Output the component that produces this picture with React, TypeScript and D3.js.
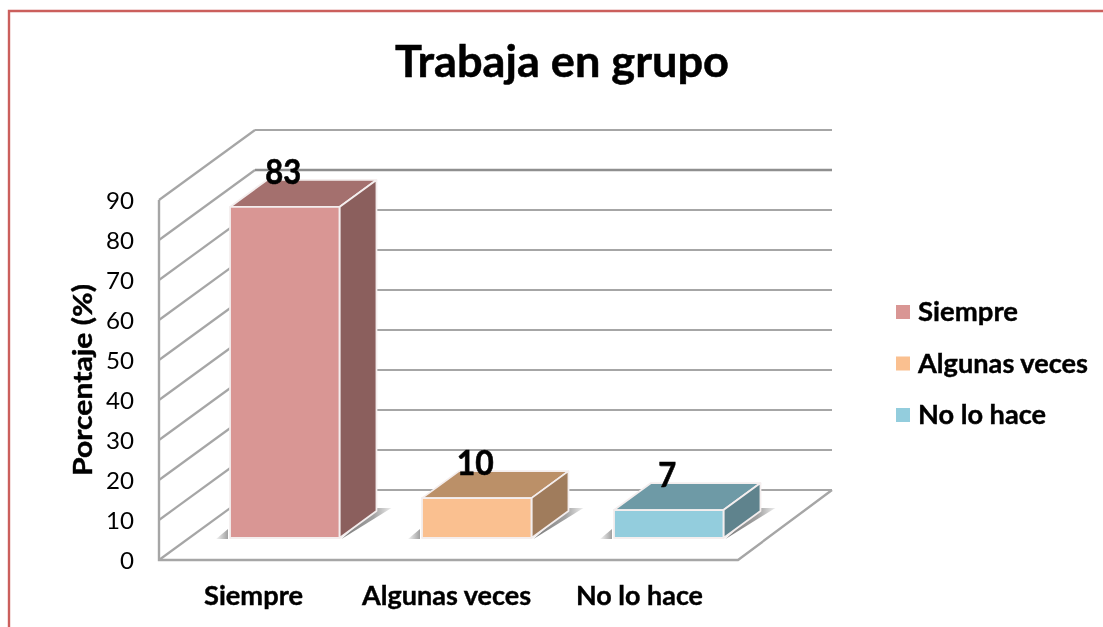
import React from "react";
import * as d3 from "d3";

const categories = ["Siempre", "Algunas veces", "No lo hace"];
const values = [83, 10, 7];
const ticks = [0, 10, 20, 30, 40, 50, 60, 70, 80, 90];
const frontColors = ["#d99694", "#fac090", "#93cddd"];
const topColors = ["#a4706e", "#bb9068", "#6e9aa6"];
const sideColors = ["#8b5f5d", "#a07c5c", "#5f838d"];
const categoryWidths = [99, 169, 127];
const legendWidths = [100, 170, 128];
const labelWidths = [36, 37, 18];

const W = 1103, H = 627;
const axisY = d3.scaleLinear().domain([0, 90]).range([560, 200]);
const barY = d3.scaleLinear().domain([0, 90]).range([538, 179]);
const catX = d3.scaleBand().domain(categories).range([157, 736]);
const barX = d3.scaleBand().domain(categories).range([188.75, 764.75]).paddingInner(0.43).paddingOuter(0.215);
const wallDx = 96, wallDy = -70, wallRight = 832;
const depthDx = 37, depthDy = -27;
const font = "Lato, Carlito, sans-serif";
const pts = (a: number[][]) => a.map(p => p.join(",")).join(" ");

export default function App() {
  const bw = barX.bandwidth();
  return (
    <svg width={W} height={H} viewBox={`0 0 ${W} ${H}`} style={{ position: "absolute", left: 0, top: 0, background: "#fff" }}>
      <defs>
        <filter id="soft" x="-5%" y="-5%" width="110%" height="110%"><feGaussianBlur stdDeviation="0.5" /></filter>
        <linearGradient id="shadowR" x1="0" x2="1" y1="0" y2="0">
          <stop offset="0" stopColor="#7d7d7d" /><stop offset="0.65" stopColor="#a3a3a3" /><stop offset="1" stopColor="#eeeeee" />
        </linearGradient>
        <linearGradient id="shadowL" x1="0" x2="1" y1="0" y2="0">
          <stop offset="0" stopColor="#f5f5f5" /><stop offset="1" stopColor="#a0a0a0" />
        </linearGradient>
      </defs>
      <g filter="url(#soft)">
        <path d={`M9 ${H} V11 H${W}`} fill="none" stroke="#cb5f5c" strokeWidth={2.4} />
        {ticks.map(t => {
          const y = axisY(t);
          return (
            <g key={t} fill="none">
              <line x1={159} y1={y} x2={159 + wallDx} y2={y + wallDy} stroke="#a6a6a6" strokeWidth={2.2} />
              <line x1={159 + wallDx} y1={y + wallDy} x2={wallRight} y2={y + wallDy} stroke={t === 80 ? "#8f8f8f" : "#a6a6a6"} strokeWidth={t === 80 ? 2.6 : 2.2} />
            </g>
          );
        })}
        <polyline points={pts([[159, 200], [159, 560], [738, 560], [wallRight, 490]])} fill="none" stroke="#a6a6a6" strokeWidth={2.4} />
        {categories.map((c, i) => {
          const x = barX(c)!, x1 = x + bw, yB = barY(0), yT = barY(values[i]);
          return (
            <g key={c}>
              <polygon points={pts([[x - 14, yB + 1], [x - 2, yB - 9], [x - 2, yB + 1]])} fill="url(#shadowL)" />
              <polygon points={pts([[x1 + 2, yB + 1], [x1 + depthDx, yB + depthDy - 3], [x1 + depthDx + 15, yB + depthDy - 3]])} fill="url(#shadowR)" />
              <g stroke="#f4eeee" strokeWidth={1.8} strokeLinejoin="round">
                <polygon points={pts([[x, yT], [x1, yT], [x1 + depthDx, yT + depthDy], [x + depthDx, yT + depthDy]])} fill={topColors[i]} />
                <polygon points={pts([[x1, yT], [x1 + depthDx, yT + depthDy], [x1 + depthDx, yB + depthDy], [x1, yB]])} fill={sideColors[i]} />
                <rect x={x} y={yT} width={bw} height={yB - yT} fill={frontColors[i]} />
              </g>
            </g>
          );
        })}
        <g fontFamily={font} fill="#000">
          <text x={562} y={77} textAnchor="middle" fontSize={44} fontWeight={700} stroke="#000" strokeWidth={0.5} textLength={334} lengthAdjust="spacingAndGlyphs">Trabaja en grupo</text>
          {ticks.map(t => (
            <text key={t} x={134} y={axisY(t) + 9} textAnchor="end" fontSize={24} fontWeight={400} textLength={t === 0 ? 14 : 28} lengthAdjust="spacingAndGlyphs">{t}</text>
          ))}
          <text transform="translate(92,380) rotate(-90)" textAnchor="middle" fontSize={27} fontWeight={700} stroke="#000" strokeWidth={0.4} textLength={192} lengthAdjust="spacingAndGlyphs">Porcentaje (%)</text>
          {categories.map((c, i) => (
            <text key={c} x={catX(c)! + catX.bandwidth() / 2} y={605} textAnchor="middle" fontSize={26} fontWeight={700} stroke="#000" strokeWidth={0.4}
              textLength={categoryWidths[i]} lengthAdjust="spacingAndGlyphs">{c}</text>
          ))}
          {categories.map((c, i) => {
            const cx = barX(c)! + bw / 2 + depthDx / 2 - 20;
            return (
              <text key={c} x={cx} y={barY(values[i]) - 23} textAnchor="middle" fontSize={34} fontWeight={700} stroke="#000" strokeWidth={0.6}
                textLength={labelWidths[i]} lengthAdjust="spacingAndGlyphs">{values[i]}</text>
            );
          })}
          {categories.map((c, i) => {
            const y = 312 + i * 51.5;
            return (
              <g key={c}>
                <rect x={896} y={y - 7} width={14} height={14} fill={frontColors[i]} />
                <text x={918} y={y + 9} fontSize={26} fontWeight={700} stroke="#000" strokeWidth={0.4} textLength={legendWidths[i]} lengthAdjust="spacingAndGlyphs">{c}</text>
              </g>
            );
          })}
        </g>
      </g>
    </svg>
  );
}
